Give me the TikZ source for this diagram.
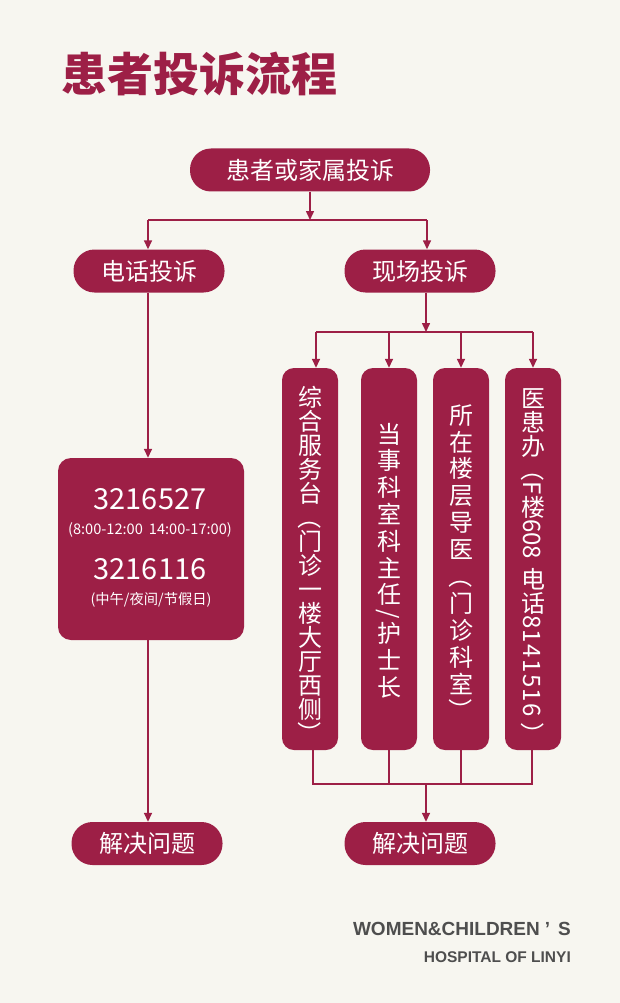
\documentclass[tikz,border=0pt]{standalone}
\usepackage{fontspec}
\usepackage{graphicx}
\setmainfont{Noto Sans CJK SC}
\newfontfamily\cjk{Noto Sans CJK SC}
\newfontfamily\lat{Liberation Sans}
\usetikzlibrary{arrows.meta}
\definecolor{crim}{RGB}{157,31,70}
\definecolor{bgc}{RGB}{247,246,240}
\definecolor{gry}{RGB}{78,78,78}
\newdimen\vg
\newcommand\V[1]{\rotatebox[origin=c]{90}{\makebox[1em]{\rule[-0.12em]{0pt}{1em}#1}}\kern\vg}
\def\VVloop#1{\ifx\relax#1\else\V{#1}\expandafter\VVloop\fi}
\newcommand\VV[1]{\VVloop#1\relax}
\newcommand\vtext[3]{\vg=#1\relax\rotatebox[origin=c]{-90}{\hbox{\rule[-0.12em]{0pt}{1em}\hspace*{#2}#3}}}
\tikzset{
  pill/.style={fill=crim, text=white, rounded corners=21pt, minimum height=43pt, minimum width=151pt, inner sep=0pt, font=\fontsize{24}{24}\selectfont},
  vbox/.style={fill=crim, text=white, rounded corners=12pt, minimum width=56pt, minimum height=382pt, inner sep=0pt, font=\fontsize{24}{24}\selectfont},
  link/.style={draw=crim, line width=1.5pt},
  arr/.style={link, -{Triangle[length=9pt,width=8pt]}},
  wtext/.style={text=white, inner sep=0pt},
  brand/.style={anchor=base east, inner sep=0pt, text=gry}
}
\begin{document}
\begin{tikzpicture}[x=1pt,y=-1pt]
\fill[bgc] (0,0) rectangle (620,1003);
\useasboundingbox (0,0) rectangle (620,1003);

% title
\node[anchor=west, inner sep=0pt, text=crim, font=\fontsize{46}{46}\selectfont\bfseries] (title) at (61,74) {患者投诉流程};

% top level
\node[pill, minimum width=240pt] (top) at (310,170) {患者或家属投诉};
\node[pill] (tel) at (149,271) {电话投诉};
\node[pill] (site) at (420,271) {现场投诉};

% phone box
\node[fill=crim, rounded corners=13pt, minimum width=186pt, minimum height=182pt, inner sep=0pt] (phone) at (151,549) {};
\node[wtext, font=\fontsize{29}{29}\selectfont] (p1) at (150,499) {3216527};
\node[wtext, font=\fontsize{14.6}{14.6}\selectfont] (p2) at (150,530) {(8:00-12:00\hspace{6pt}14:00-17:00)};
\node[wtext, font=\fontsize{29}{29}\selectfont] (p3) at (150,569) {3216116};
\node[wtext, font=\fontsize{14.3}{14.3}\selectfont] (p4) at (151,600) {(中午/夜间/节假日)};

% vertical boxes
\node[vbox] (b1) at (310,559) {\vtext{0pt}{12pt}{\VV{综合服务台}（\VV{门诊一楼大厅西侧}）}};
\node[vbox] (b2) at (389,559) {\vtext{2.8pt}{6pt}{\VV{当事科室科主任}/\kern\vg\VV{护士长}}};
\node[vbox] (b3) at (461,559) {\vtext{2.9pt}{8pt}{\VV{所在楼层导医}（\kern\vg\VV{门诊科室}）}};
\node[vbox] (b4) at (533,559) {\vtext{0pt}{14pt}{\VV{医患办}（F\V{楼}608\kern8pt\VV{电话}{\addfontfeature{LetterSpace=6}8141516}\kern5pt）}};

% bottom nodes
\node[pill] (ls) at (147,843.5) {解决问题};
\node[pill] (rs) at (420,843.5) {解决问题};

% brand
\node[brand, font=\lat\bfseries\fontsize{19}{19}\selectfont] (w1) at (571,935) {WOMEN\&CHILDREN\kern5pt’\kern8pt S};
\node[brand, font=\lat\bfseries\fontsize{15.5}{15.5}\selectfont] (w2) at (571,962) {HOSPITAL OF LINYI};

% connectors: top split
\coordinate (j1) at (310,220);
\coordinate (jl) at (148,220);
\coordinate (jr) at (427,220);
\draw[arr] (top.south) -- (j1);
\draw[link] (jl) -- (jr);
\draw[arr] (jl) -- (jl |- tel.north);
\draw[arr] (jr) -- (jr |- site.north);

% left column
\draw[arr] (tel.south -| jl) -- (jl |- phone.north);
\draw[arr] (phone.south -| jl) -- (jl |- ls.north);

% right column split
\coordinate (ax) at (426,332);
\coordinate (h1) at (316,332);
\coordinate (h4) at (533,332);
\draw[arr] (site.south -| ax) -- (ax);
\draw[link] (h1) -- (h4);
\draw[arr] (h1) -- (h1 |- b1.north);
\draw[arr] (b2.north |- ax) -- (b2.north);
\draw[arr] (b3.north |- ax) -- (b3.north);
\draw[arr] (h4) -- (b4.north);

% right column merge
\coordinate (g1) at (313,784);
\coordinate (g4) at (532,784);
\coordinate (ga) at (426,784);
\draw[link] (b1.south -| g1) -- (g1) -- (g4) -- (b4.south -| g4);
\draw[link] (b2.south) -- (b2.south |- g1);
\draw[link] (b3.south) -- (b3.south |- g1);
\draw[arr] (ga) -- (ga |- rs.north);
\end{tikzpicture}
\end{document}
